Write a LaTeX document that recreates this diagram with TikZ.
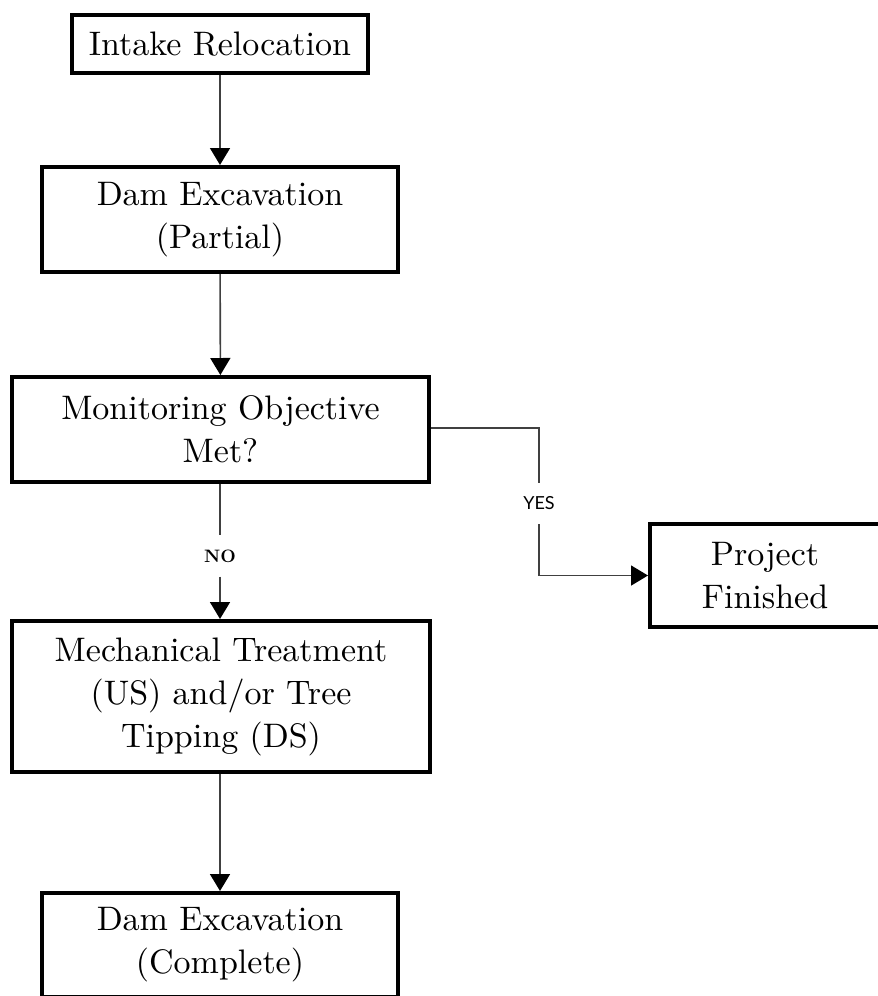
\documentclass[tikz,border=0pt]{standalone}
\usepackage{fontspec}
\setmainfont{lmroman10-regular}[Extension=.otf, BoldFont=lmroman10-bold]
\newfontfamily\yesfont{Lato}
\usetikzlibrary{arrows.meta}
\begin{document}
\begin{tikzpicture}[x=1pt,y=-1pt,
  box/.style={draw=black, line width=4pt, rectangle, inner sep=0pt, align=center,
    font=\fontsize{34}{43}\selectfont},
  conn/.style={draw=black!75, line width=1.6pt},
  arr/.style={conn, -{Triangle[width=20pt,length=17pt,color=black]}},
  lbl/.style={inner sep=0pt, minimum width=30pt, minimum height=41pt},
]
\useasboundingbox (0,0) rectangle (878,996);
\node[box, minimum width=296pt, minimum height=58pt] (b1) at (220,44) {Intake Relocation};
\node[box, minimum width=356pt, minimum height=105pt] (b2) at (220,219.5) {Dam Excavation\\(Partial)};
\node[box, minimum width=417pt, minimum height=105pt] (b3) at (220.5,429.5) {Monitoring Objective\\Met?};
\node[box, minimum width=418pt, minimum height=151pt] (b4) at (221,696.5) {Mechanical Treatment\\(US) and/or Tree\\Tipping (DS)};
\node[box, minimum width=356pt, minimum height=104pt] (b5) at (220,945) {Dam Excavation\\(Complete)};
\node[box, minimum width=230pt, minimum height=103pt] (pf) at (765,575.5) {Project\\Finished};

\node[lbl, font=\bfseries\fontsize{18}{18}\selectfont] (no) at (220,556) {NO};
\node[lbl, font=\yesfont\fontsize{18}{18}\selectfont] (yes) at (539,503.5) {YES};

\draw[arr] (b1) -- (b2);
\draw[arr] (b2) -- (b3);
\draw[conn] (b3.south -| no) -- (no.north);
\draw[arr] (no.south) -- (b4.north -| no);
\draw[conn] (b3.east |- 0,428) -| (yes.north);
\draw[arr] (yes.south) |- (pf.west);
\draw[arr] (b4.south -| b2) -- (b5);
\end{tikzpicture}
\end{document}
